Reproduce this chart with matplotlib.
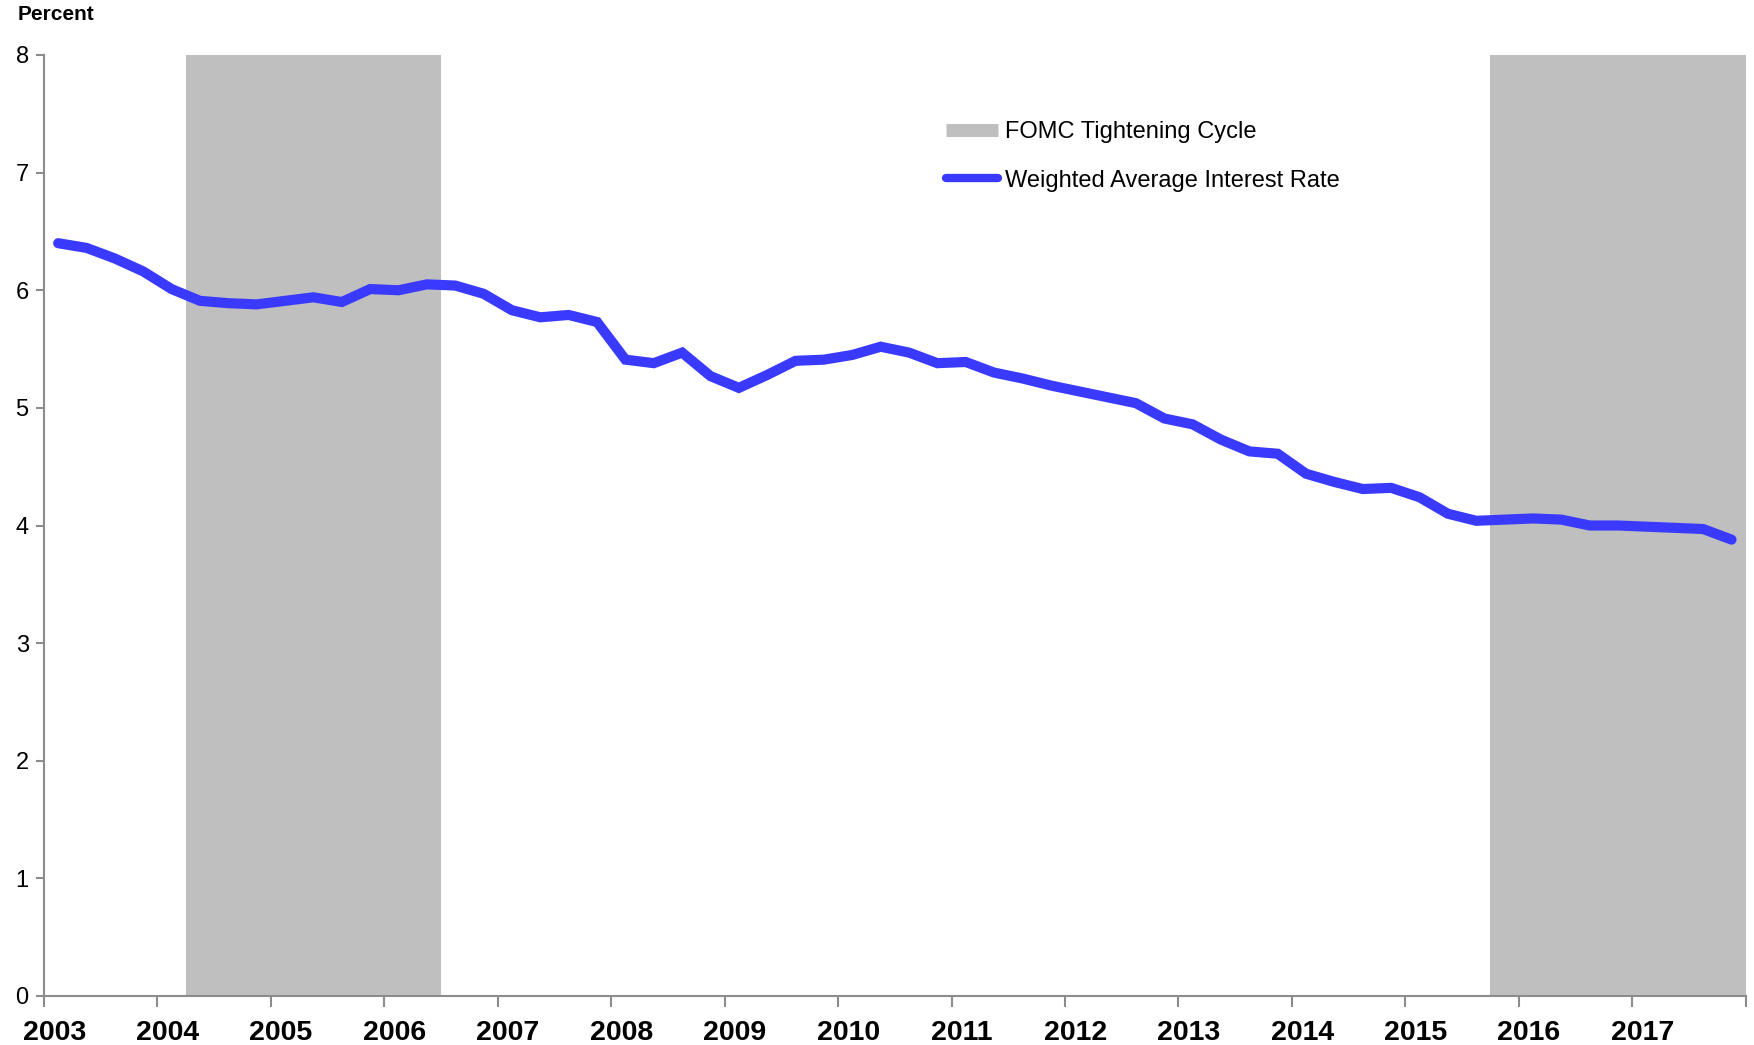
import numpy as np
import matplotlib
matplotlib.use("Agg")
import matplotlib.pyplot as plt
from matplotlib.lines import Line2D

plt.rcParams['font.family'] = ['Liberation Sans', 'DejaVu Sans']

# quarterly weighted average interest rate, percent (Q1 2003 .. Q4 2017)
years = list(range(2003, 2018))
rate = [
    6.40, 6.36, 6.27, 6.16,
    6.01, 5.91, 5.89, 5.88,
    5.91, 5.94, 5.90, 6.01,
    6.00, 6.05, 6.04, 5.97,
    5.83, 5.77, 5.79, 5.73,
    5.41, 5.38, 5.47, 5.27,
    5.17, 5.28, 5.40, 5.41,
    5.45, 5.52, 5.47, 5.38,
    5.39, 5.30, 5.25, 5.19,
    5.14, 5.09, 5.04, 4.91,
    4.86, 4.73, 4.63, 4.61,
    4.44, 4.37, 4.31, 4.32,
    4.24, 4.10, 4.04, 4.05,
    4.06, 4.05, 4.00, 4.00,
    3.99, 3.98, 3.97, 3.88,
]
# FOMC tightening cycles (start, end) in decimal years
tightening = [(2004.25, 2006.5), (2015.75, 2018.0)]

BLUE = "#3a3aff"
GREY = "#bfbfbf"
AXIS = "#8c8c8c"

# quarter midpoints
x = np.array([y + (q + 0.5) / 4 for y in years for q in range(4)])

fig = plt.figure(figsize=(17.54, 10.45), dpi=100)
ax = fig.add_axes([44 / 1754, 49 / 1045, (1745.7 - 44) / 1754, (996 - 55) / 1045])

for start, end in tightening:
    ax.axvspan(start, end, color=GREY, lw=0, zorder=1)
ax.plot(x, rate, color=BLUE, lw=7.3, solid_capstyle="round", solid_joinstyle="miter", zorder=3)

ax.set_xlim(2003, 2018)
ax.set_ylim(0, 8)
ax.set_yticks(range(0, 9))
ax.tick_params(axis="y", direction="out", length=6, width=1.5, color=AXIS,
               labelsize=17, pad=5)
ax.set_xticks(range(2003, 2019))
ax.set_xticklabels([])
ax.tick_params(axis="x", which="major", direction="out", length=8, width=1.5, color=AXIS)
ax.set_xticks([y + 0.09 for y in years], minor=True)
ax.set_xticklabels([str(y) for y in years], minor=True, fontsize=20.5, fontweight="bold")
ax.tick_params(axis="x", which="minor", length=0, pad=17)

for s in ["top", "right"]:
    ax.spines[s].set_visible(False)
for s in ["left", "bottom"]:
    ax.spines[s].set_color(AXIS)
    ax.spines[s].set_linewidth(1.5)

fig.text(18 / 1754, 1 - 14 / 1045, "Percent", fontsize=15, fontweight="bold", va="center", ha="left")

handles = [
    Line2D([], [], color=GREY, lw=9.4, solid_capstyle="butt"),
    Line2D([], [], color=BLUE, lw=6, solid_capstyle="round"),
]
fig.legend(handles, ["FOMC Tightening Cycle", "Weighted Average Interest Rate"],
           loc="upper left", bbox_to_anchor=(946 / 1754, 1 - 121 / 1045),
           frameon=False, fontsize=17, handlelength=2.2, handletextpad=0.3,
           labelspacing=1.13, borderpad=0, borderaxespad=0)

fig.savefig("out.png", dpi=100)
